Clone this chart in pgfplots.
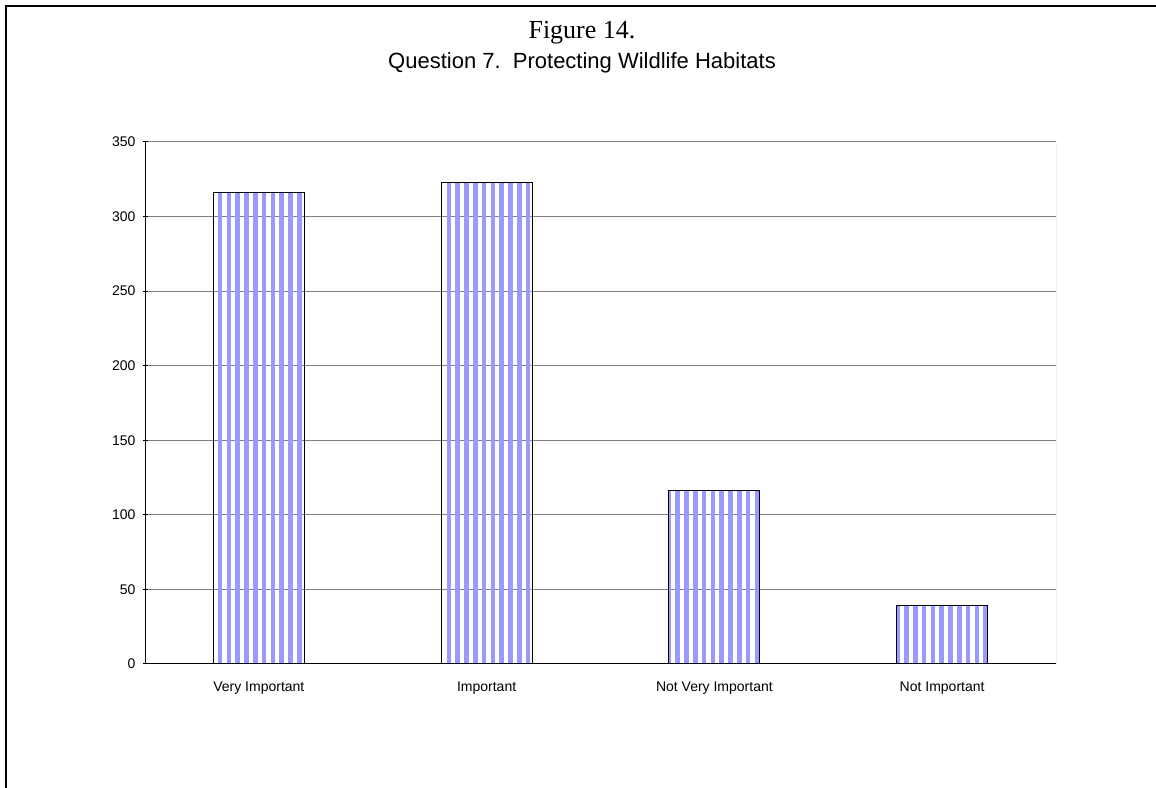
\documentclass[border=0pt]{standalone}
\usepackage{pgfplots}
\pgfplotsset{compat=1.18}
\usepackage{fontspec}
\setmainfont{Liberation Sans}
\newfontfamily\timesfont{Liberation Serif}
\usetikzlibrary{patterns.meta}
\definecolor{stripeblue}{RGB}{153,153,255}
\definecolor{gridgray}{RGB}{128,128,128}
\begin{document}
\begin{tikzpicture}
\begin{axis}[
  at={(72.5bp,62bp)}, anchor=south west,
  scale only axis,
  width=455.5bp, height=261bp,
  xmin=-0.5, xmax=3.5,
  ymin=0, ymax=350,
  ytick={0,50,...,350},
  xtick={0,1,2,3},
  xticklabels={Very Important,Important,Not Very Important,Not Important},
  minor xtick={-0.5,0.5,1.5,2.5,3.5},
  xtick style={draw=none},
  minor tick length=2.5bp,
  major tick length=2.5bp,
  tick align=outside,
  axis x line=bottom, axis y line=left,
  axis line style={-, black, line width=0.5bp},
  ymajorgrids,
  grid style={gridgray, line width=0.5bp},
  every tick/.style={black, line width=0.5bp},
  tick label style={font=\fontsize{7bp}{8bp}\selectfont},
  /pgf/number format/assume math mode=true,
  xticklabel style={yshift=-3bp},
  ybar, bar width=45.5bp,
]
\addplot[draw=black, line width=0.5bp,
  pattern={Lines[angle=90, distance=4.4bp, line width=2.3bp]}, pattern color=stripeblue]
  coordinates {(0,316) (1,323) (2,116) (3,39)};
\draw[gridgray, line width=0.5bp] (rel axis cs:1,0) -- (rel axis cs:1,1);
\end{axis}
\draw[line width=1bp] (3bp,-20bp) -- (3bp,391bp) -- (600bp,391bp);
\node[anchor=base, font=\timesfont\fontsize{13bp}{15bp}\selectfont] at (291bp,374.5bp) {Figure 14.};
\node[anchor=base, font=\fontsize{11bp}{13bp}\selectfont] at (291bp,359.5bp) {Question 7.\ \ Protecting Wildlife Habitats};
\pgfresetboundingbox
\path[use as bounding box] (0,0) rectangle (578bp,394bp);
\end{tikzpicture}
\end{document}
